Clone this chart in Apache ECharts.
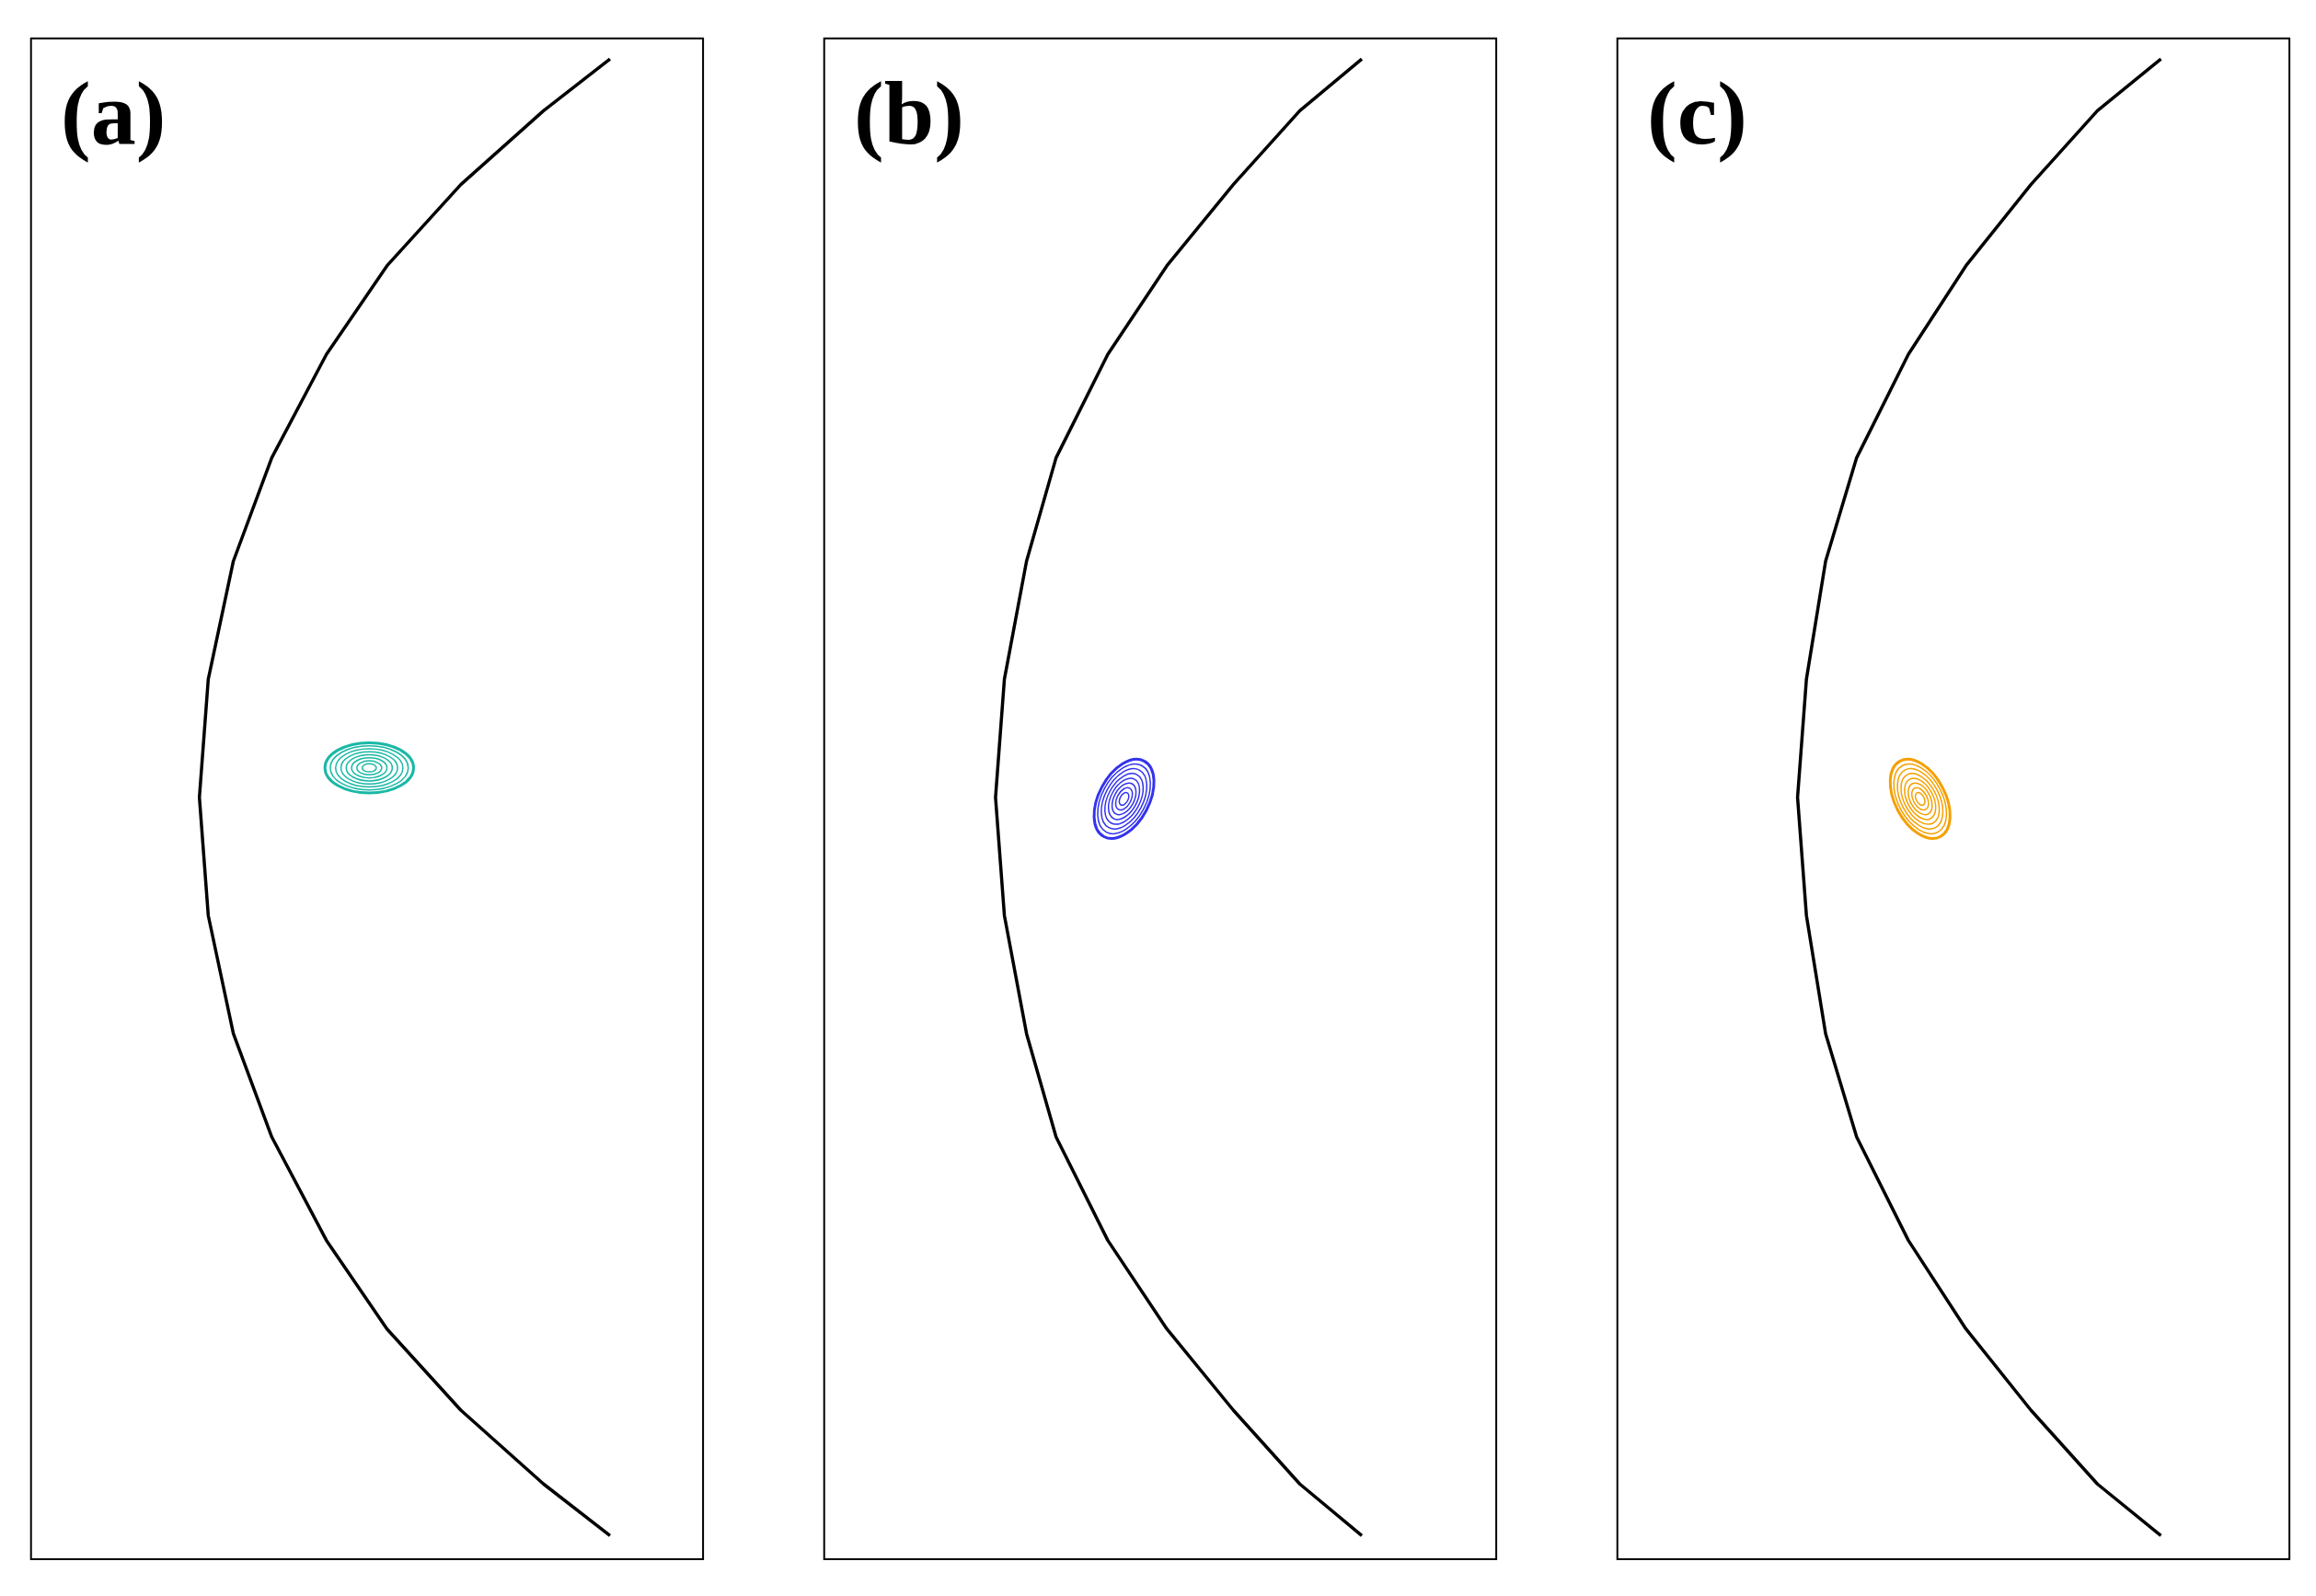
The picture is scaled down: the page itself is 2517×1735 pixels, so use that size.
<!DOCTYPE html><html><head><meta charset="utf-8">
<script src="https://cdn.jsdelivr.net/npm/echarts@6/dist/echarts.min.js"></script>
<style>html,body{margin:0;background:#fff}#c{width:2517px;height:1735px}</style></head><body><div id="c"></div>
<script>
// panel labels
const panelLabels = ['(a)', '(b)', '(c)'];
const contourColors = ['#1ab8a6', '#3333ee', '#f5a000'];
// boundary curve y values (display units from top of box)
const curveY = [14, 49, 99, 154, 214, 284, 354, 434, 514, 594, 674, 744, 814, 874, 929, 979, 1014];
const curveXa = [392, 347, 291, 241, 200, 163, 137, 120, 114, 120, 137, 163, 200, 241, 291, 347, 392];
const curveXb = [364, 322, 277, 232, 192, 157, 137, 122, 116, 122, 137, 157, 192, 232, 277, 322, 364];
const curveXc = [368, 325, 280, 236, 197, 162, 141, 128, 122, 128, 141, 162, 197, 236, 280, 325, 368];
// ellipse contours: [cx, cy, rx, ry, rotationDeg]
const ellipseA = [229, 494, 30, 17, 0];
const ellipseB = [203, 515, 17, 29, 28];
const ellipseC = [205, 515, 17, 29, -28];
const contourLevels = [1, 0.88, 0.76, 0.64, 0.52, 0.4, 0.28, 0.16];

const S = 2517 / 1568;
const boxLefts = [21, 558, 1095];
const curves = [curveXa, curveXb, curveXc];
const ells = [ellipseA, ellipseB, ellipseC];
const grids = [], xAxis = [], yAxis = [], series = [], title = [];
boxLefts.forEach((bl, i) => {
  grids.push({left: bl * S, top: 26 * S, width: 455 * S, height: 1030 * S, show: true, borderColor: '#000', borderWidth: 2});
  xAxis.push({gridIndex: i, type: 'value', min: 0, max: 455, show: false});
  yAxis.push({gridIndex: i, type: 'value', min: 0, max: 1030, inverse: true, show: false});
  title.push({text: panelLabels[i], left: (bl + 17) * S, top: 48 * S,
    textStyle: {fontFamily: 'Liberation Serif', fontWeight: 'bold', fontSize: 98, color: '#000'}});
  series.push({type: 'line', xAxisIndex: i, yAxisIndex: i, symbol: 'none', smooth: false,
    lineStyle: {color: '#000', width: 3.5, join: 'round'}, data: curveY.map((y, k) => [curves[i][k], y])});
  const e = ells[i];
  series.push({type: 'custom', xAxisIndex: i, yAxisIndex: i,
    data: contourLevels.map(l => [e[0], e[1], e[2] * l, e[3] * l, e[4]]),
    renderItem: (params, api) => {
      const c = api.coord([api.value(0), api.value(1)]);
      const sz = api.size([api.value(2), api.value(3)]);
      return {type: 'ellipse', x: c[0], y: c[1], rotation: -api.value(4) * Math.PI / 180,
        shape: {cx: 0, cy: 0, rx: sz[0], ry: sz[1]},
        style: {fill: null, stroke: contourColors[i], lineWidth: params.dataIndex === 0 ? 3 : 1.5}};
    }});
});
const chart = echarts.init(document.getElementById('c'));
chart.setOption({animation: false, title, grid: grids, xAxis, yAxis, series});
</script></body></html>
